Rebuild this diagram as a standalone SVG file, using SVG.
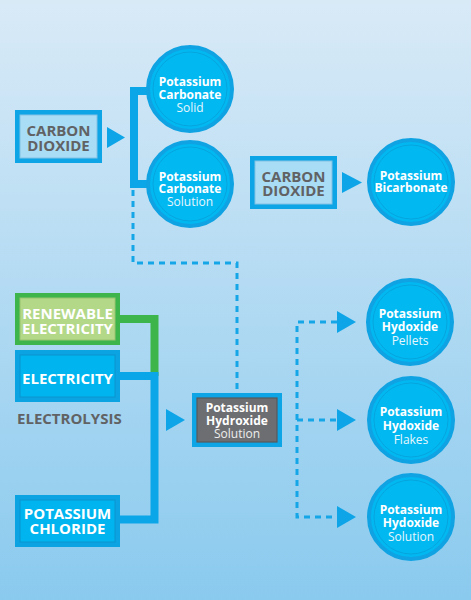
<svg xmlns="http://www.w3.org/2000/svg" width="471" height="600" viewBox="0 0 471 600">
<defs>
<linearGradient id="bg" x1="0" y1="0" x2="0" y2="1">
<stop offset="0" stop-color="#d9eaf7"/>
<stop offset="1" stop-color="#8acaee"/>
</linearGradient>
<style>
.ring{fill:#02b8f1;stroke:#0fa3e3;stroke-width:4}
.inring{fill:none;stroke:#0a8fc9;stroke-width:0.8;opacity:0.6}
.ct{font-family:"Open Sans","Noto Sans",sans-serif;font-size:12px;fill:#fff;text-anchor:middle;font-weight:bold}
.r{font-weight:normal;fill:#e6f7fd}
.bt{font-family:"Open Sans","Noto Sans",sans-serif;font-size:15px;font-weight:bold;text-anchor:middle}
.gray{fill:#616264}
.white{fill:#fff}
.arrow{fill:#0ea5e8}
.solid{fill:none;stroke:#0aa6e8;stroke-width:8}
.dash{fill:none;stroke:#15a6e8;stroke-width:3;stroke-dasharray:6 5}
</style>
</defs>
<rect width="471" height="600" fill="url(#bg)"/>

<g id="connectors">
<path class="solid" d="M150,91 H134 V184 H152" stroke-width="7"/>
<path class="dash" d="M133,190 V263 H237 V392"/>
<path d="M120,319 H154.5 V376" fill="none" stroke="#3db54a" stroke-width="8"/>
<path class="solid" d="M120,376 H154.5 V519.5 H120"/>
<path class="dash" d="M337,322 H297 V517 H337 M297,420 H337"/>
<polygon class="arrow" points="107,127 125,137.5 107,148"/>
<polygon class="arrow" points="342,172 362,182.5 342,193"/>
<polygon class="arrow" points="166,409 185,420 166,431"/>
<polygon class="arrow" points="337,311 356,322 337,333"/>
<polygon class="arrow" points="337,409 356,420 337,431"/>
<polygon class="arrow" points="337,506 356,517 337,528"/>
</g>

<g id="co2-1">
<rect x="15" y="110" width="87" height="53" fill="#0ea5e6"/>
<rect x="20" y="115" width="77" height="43" fill="#a9dcf5" stroke="#80c3e4" stroke-width="1"/>
<text class="bt gray"><tspan x="58.5" y="135.5">CARBON</tspan><tspan x="58.5" y="150.5">DIOXIDE</tspan></text>
</g>

<g id="k2co3-solid">
<circle class="ring" cx="190" cy="89" r="42"/>
<circle class="inring" cx="190" cy="89" r="37"/>
<text class="ct"><tspan x="190" y="85.5">Potassium</tspan><tspan x="190" y="98.5">Carbonate</tspan><tspan class="r" x="190" y="111.5">Solid</tspan></text>
</g>

<g id="k2co3-solution">
<circle class="ring" cx="190" cy="184" r="42"/>
<circle class="inring" cx="190" cy="184" r="37"/>
<text class="ct"><tspan x="190" y="180.5">Potassium</tspan><tspan x="190" y="193">Carbonate</tspan><tspan class="r" x="190" y="206">Solution</tspan></text>
</g>

<g id="co2-2">
<rect x="250" y="156" width="87" height="53" fill="#0ea5e6"/>
<rect x="255" y="161" width="77" height="43" fill="#a9dcf5" stroke="#80c3e4" stroke-width="1"/>
<text class="bt gray"><tspan x="293.5" y="181.5">CARBON</tspan><tspan x="293.5" y="196">DIOXIDE</tspan></text>
</g>

<g id="khco3">
<circle class="ring" cx="411" cy="182" r="42"/>
<circle class="inring" cx="411" cy="182" r="37"/>
<text class="ct"><tspan x="411" y="179.5">Potassium</tspan><tspan x="411" y="192">Bicarbonate</tspan></text>
</g>

<g id="renewable">
<rect x="15" y="293" width="105" height="52" fill="#3db54a"/>
<rect x="20" y="298" width="95" height="42" fill="#b3d888" stroke="#98c46e" stroke-width="1"/>
<text class="bt white"><tspan x="67.5" y="318.5">RENEWABLE</tspan><tspan x="67.5" y="333.5">ELECTRICITY</tspan></text>
</g>

<g id="electricity">
<rect x="15" y="350" width="105" height="52" fill="#0ca3e3"/>
<rect x="20" y="355" width="95" height="42" fill="#00b5ef" stroke="#0a94d0" stroke-width="1"/>
<text class="bt white" x="67.5" y="383.5">ELECTRICITY</text>
</g>

<g id="electrolysis">
<text class="bt gray" x="17" y="424" style="text-anchor:start">ELECTROLYSIS</text>
</g>

<g id="kcl">
<rect x="15" y="495" width="105" height="52" fill="#0ca3e3"/>
<rect x="20" y="500" width="95" height="42" fill="#00b5ef" stroke="#0a94d0" stroke-width="1"/>
<text class="bt white"><tspan x="67.5" y="518.5">POTASSIUM</tspan><tspan x="67.5" y="533.5">CHLORIDE</tspan></text>
</g>

<g id="koh-solution-box">
<rect x="192" y="393" width="90" height="54" fill="#0ea5e6"/>
<rect x="197" y="398" width="80" height="44" fill="#6d6e71" stroke="#58595b" stroke-width="1.2"/>
<text class="ct"><tspan x="237" y="411.5">Potassium</tspan><tspan x="237" y="424.5">Hydroxide</tspan><tspan class="r" x="237" y="438" style="fill:#eeeeee">Solution</tspan></text>
</g>

<g id="koh-pellets">
<circle class="ring" cx="410" cy="322" r="42"/>
<circle class="inring" cx="410" cy="322" r="37"/>
<text class="ct"><tspan x="410" y="317.5">Potassium</tspan><tspan x="410" y="331">Hydoxide</tspan><tspan class="r" x="410" y="344.5">Pellets</tspan></text>
</g>

<g id="koh-flakes">
<circle class="ring" cx="411" cy="420" r="42"/>
<circle class="inring" cx="411" cy="420" r="37"/>
<text class="ct"><tspan x="411" y="416">Potassium</tspan><tspan x="411" y="430">Hydoxide</tspan><tspan class="r" x="411" y="443.5">Flakes</tspan></text>
</g>

<g id="koh-solution">
<circle class="ring" cx="411" cy="517" r="42"/>
<circle class="inring" cx="411" cy="517" r="37"/>
<text class="ct"><tspan x="411" y="513.5">Potassium</tspan><tspan x="411" y="527">Hydoxide</tspan><tspan class="r" x="411" y="540.5">Solution</tspan></text>
</g>
</svg>
